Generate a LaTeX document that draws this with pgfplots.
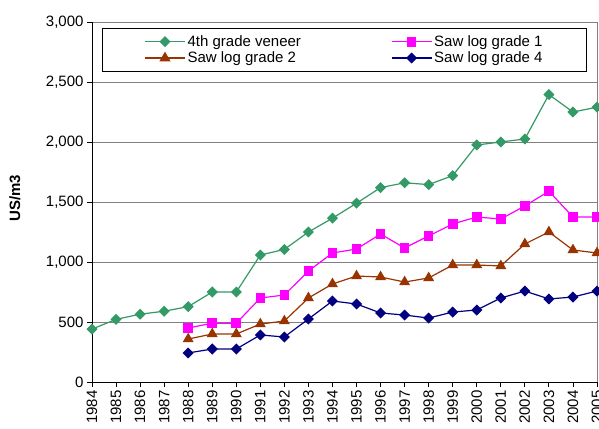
\documentclass[border=0pt]{standalone}
\usepackage{pgfplots}
\pgfplotsset{compat=1.18}
\usepackage{pgfplotstable}
\usepackage{fontspec}
\setmainfont{Liberation Sans}

\definecolor{veneer}{HTML}{339966}
\definecolor{sawone}{HTML}{FF00FF}
\definecolor{sawtwo}{HTML}{993300}
\definecolor{sawfour}{HTML}{000080}

\pgfplotstableread{
year veneer
1984 441
1985 522
1986 565
1987 590
1988 628
1989 750
1990 750
1991 1058
1992 1105
1993 1250
1994 1365
1995 1490
1996 1620
1997 1660
1998 1645
1999 1720
2000 1975
2001 2000
2002 2025
2003 2395
2004 2250
2005 2290
}\veneer

\pgfplotstableread{
year g1 g2 g4
1988 450 358 242
1989 490 400 275
1990 490 400 275
1991 700 483 392
1992 725 508 375
1993 925 700 525
1994 1075 817 675
1995 1108 883 650
1996 1233 875 575
1997 1117 833 558
1998 1217 867 533
1999 1317 975 583
2000 1375 975 600
2001 1358 967 700
2002 1467 1150 758
2003 1590 1250 692
2004 1375 1100 708
2005 1375 1075 758
}\sawlogs

\begin{document}
\begin{tikzpicture}
\begin{axis}[
    scale only axis,
    width=505pt,
    height=360pt,
    xmin=1984, xmax=2005,
    ymin=0, ymax=3000,
    xtick={1984,...,2005},
    ytick={0,500,...,3000},
    axis x line*=bottom,
    axis y line*=left,
    axis line style={black, line width=0.8pt},
    tick align=outside,
    major tick length=5pt,
    tick style={black, line width=0.8pt},
    ymajorgrids,
    major grid style={gray, line width=0.8pt},
    extra x ticks={2005},
    extra x tick labels={},
    extra x tick style={grid=major, major tick length=0pt},
    /pgf/number format/assume math mode=true,
    yticklabel style={/pgf/number format/1000 sep={,}, font=\fontsize{15}{15}\selectfont},
    xticklabel style={/pgf/number format/1000 sep={}, rotate=90, anchor=east,
        font=\fontsize{15}{15}\selectfont},
    ylabel={\textbf{US/m3}},
    ylabel style={at={(rel axis cs:0,0.51)}, anchor=south, yshift=68pt,
        font=\fontsize{15}{15}\selectfont},
    legend columns=2,
    legend cell align=left,
    legend style={at={(0.5,0.983)}, anchor=north, draw=black, line width=0.8pt,
        font=\fontsize{15}{14}\selectfont, inner xsep=41.5pt, inner ysep=5pt,
        row sep=0pt, /tikz/every even column/.append style={column sep=88pt}},
    legend image code/.code={
        \draw[mark repeat=2, mark phase=2] plot coordinates {(0pt,0pt) (20pt,0pt) (40pt,0pt)};
    },
    every axis plot/.append style={line width=1.2pt},
]
\addplot[veneer, mark=square*, mark size=3.3pt, mark options={rotate=45}]
    table[x=year, y=veneer] {\veneer};
\addlegendentry{4th grade veneer}
\addplot[sawone, mark=square*, mark size=4.2pt]
    table[x=year, y=g1] {\sawlogs};
\addlegendentry{Saw log grade 1}
\addplot[sawtwo, mark=triangle*, mark size=5.2pt]
    table[x=year, y=g2] {\sawlogs};
\addlegendentry{Saw log grade 2}
\addplot[sawfour, mark=square*, mark size=3.3pt, mark options={rotate=45}]
    table[x=year, y=g4] {\sawlogs};
\addlegendentry{Saw log grade 4}
\end{axis}
\pgfresetboundingbox
\path ([shift={(-92pt,-46pt)}]current axis.south west) rectangle ([shift={(2pt,22pt)}]current axis.north east);
\end{tikzpicture}
\end{document}
